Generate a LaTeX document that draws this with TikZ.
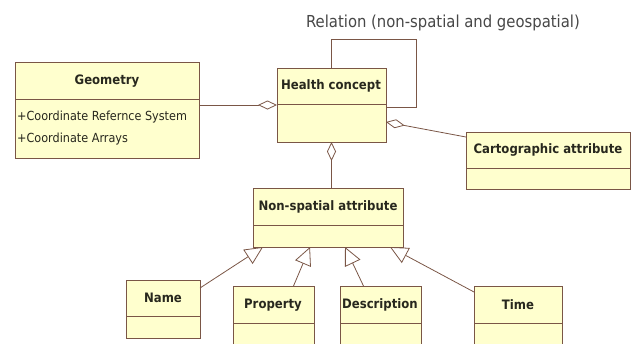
\documentclass[tikz,border=0pt]{standalone}
\usepackage{fontspec}
\setmainfont{DejaVu Sans Condensed}
\usepackage{tikz}
\usetikzlibrary{arrows.meta,calc}
\definecolor{umlfill}{RGB}{255,255,206}
\definecolor{umledge}{RGB}{122,86,70}
\definecolor{umltext}{RGB}{40,40,30}
\tikzset{
  classbox/.style={draw=umledge,fill=umlfill,thick,anchor=north west,inner sep=0pt,outer sep=0pt},
  classname/.style={font=\bfseries\fontsize{13}{15}\selectfont,text=umltext},
  attr/.style={font=\fontsize{12.5}{14}\selectfont,text=umltext,anchor=west,inner sep=0pt},
  link/.style={draw=umledge,thick},
  aggr/.style={link,{Diamond[open,length=19pt,width=9pt]}-},
  gen/.style={link,-{Triangle[open,length=18pt,width=17pt]}},
}

\begin{document}
\begin{tikzpicture}[x=1pt,y=-1pt]
\useasboundingbox (0,0) rectangle (637,343);
\clip (0,0) rectangle (637,343);
% Relation label
\node[font=\fontsize{16.5}{19}\selectfont,text=black!72] (rel) at (443,23) {Relation (non-spatial and geospatial)};
% Geometry
\node[classbox,minimum width=184pt,minimum height=96pt] (geom) at (15,62) {};
\draw[umledge,thick] ($(geom.north west)+(0,37)$) -- ($(geom.north east)+(0,37)$);
\node[classname] (geomT) at (107,81) {Geometry};
\node[attr] (geomA) at (17,117) {+Coordinate Refernce System};
\node[attr] (geomB) at (17,139) {+Coordinate Arrays};
% Health concept
\node[classbox,minimum width=109pt,minimum height=74pt] (health) at (277,68) {};
\draw[umledge,thick] ($(health.north west)+(0,36)$) -- ($(health.north east)+(0,36)$);
\node[classname] (healthT) at (331,86) {Health concept};
% Cartographic attribute
\node[classbox,minimum width=164pt,minimum height=57pt] (carto) at (466,132) {};
\draw[umledge,thick] ($(carto.north west)+(0,36)$) -- ($(carto.north east)+(0,36)$);
\node[classname] (cartoT) at (548,150) {Cartographic attribute};
% Non-spatial attribute
\node[classbox,minimum width=150pt,minimum height=59pt] (nonsp) at (253,188) {};
\draw[umledge,thick] ($(nonsp.north west)+(0,37)$) -- ($(nonsp.north east)+(0,37)$);
\node[classname] (nonspT) at (328,207) {Non-spatial attribute};
% Subclasses
\node[classbox,minimum width=74pt,minimum height=58pt] (name) at (126,280) {};
\draw[umledge,thick] ($(name.north west)+(0,36)$) -- ($(name.north east)+(0,36)$);
\node[classname] (nameT) at (163,298) {Name};
\node[classbox,minimum width=81pt,minimum height=70pt] (prop) at (233,286) {};
\draw[umledge,thick] ($(prop.north west)+(0,37)$) -- ($(prop.north east)+(0,37)$);
\node[classname] (propT) at (273,305) {Property};
\node[classbox,minimum width=81pt,minimum height=70pt] (desc) at (340,286) {};
\draw[umledge,thick] ($(desc.north west)+(0,37)$) -- ($(desc.north east)+(0,37)$);
\node[classname] (descT) at (380,305) {Description};
\node[classbox,minimum width=88pt,minimum height=70pt] (time) at (474,286) {};
\draw[umledge,thick] ($(time.north west)+(0,37)$) -- ($(time.north east)+(0,37)$);
\node[classname] (timeT) at (518,305) {Time};
% Aggregations
\draw[aggr] (health.west) -- (health.west -| geom.east);
\draw[aggr] ($(health.south east)+(0,-20)$) -- ($(carto.north west)+(0,5)$);
\draw[aggr] (health.south) -- (health.south |- nonsp.north);
% Self relation
\coordinate (loopc) at (416,39);
\draw[link] (health.north) |- (loopc) |- ($(health.east)+(0,2)$);
% Generalizations
\draw[gen] ($(name.north east)+(0,8)$) -- ($(nonsp.south west)+(10,0)$);
\draw[gen] ($(prop.north)+(20,0)$) -- ($(nonsp.south west)+(57,0)$);
\draw[gen] ($(desc.north)+(-17,0)$) -- ($(nonsp.south west)+(92,0)$);
\draw[gen] ($(time.north west)+(0,6)$) -- ($(nonsp.south east)+(-13,0)$);
\end{tikzpicture}
\end{document}
